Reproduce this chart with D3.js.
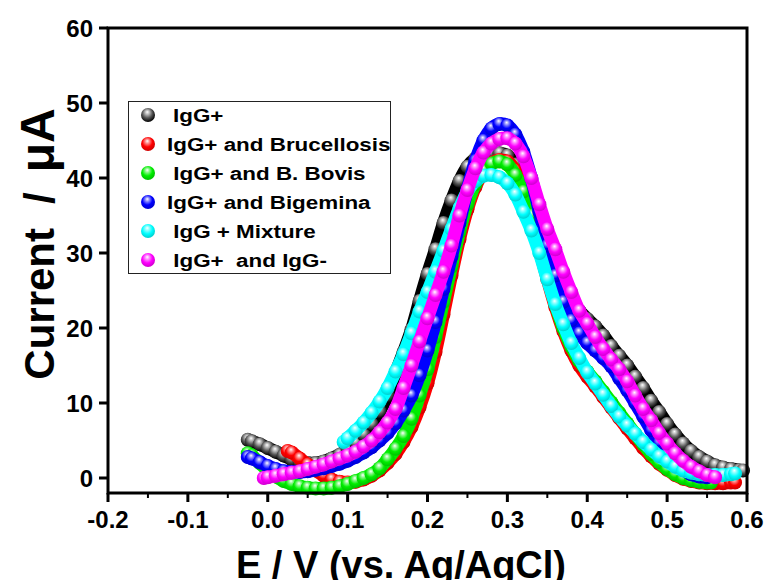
<!DOCTYPE html>
<html>
<head>
<meta charset="utf-8">
<script src="https://cdn.jsdelivr.net/npm/d3@7"></script>
<style>
  body { margin: 0; background: #fff; }
  svg { display: block; font-family: Arial, "Liberation Sans", sans-serif; }
</style>
</head>
<body>
<div id="chart"></div>
<script>
// DPV curves, [E (V), current (uA)]
const igg = [[-0.025,5.1],[-0.02,4.9],[-0.01,4.5],[0,4.0],[0.01,3.5],[0.02,3.0],[0.03,2.5],[0.04,2.2],[0.05,2.0],[0.06,2.0],[0.07,2.2],[0.08,2.6],[0.09,3.1],[0.1,3.8],[0.11,4.7],[0.12,5.8],[0.13,7.2],[0.14,8.9],[0.15,11.0],[0.16,14.0],[0.17,16.8],[0.18,19.8],[0.19,23.6],[0.2,27.2],[0.21,30.5],[0.22,34],[0.23,37],[0.24,39.6],[0.25,41.5],[0.26,42.6],[0.27,43.2],[0.28,43.4],[0.29,43.3],[0.3,43],[0.31,41.8],[0.32,39.8],[0.33,37],[0.34,34],[0.35,31],[0.36,28.3],[0.37,25.8],[0.38,23.8],[0.39,22.3],[0.4,21.2],[0.41,20.2],[0.42,19],[0.43,17.6],[0.44,16.3],[0.45,15],[0.46,13.5],[0.47,12],[0.48,10.3],[0.49,8.8],[0.5,7.2],[0.51,5.8],[0.52,4.6],[0.53,3.6],[0.54,2.8],[0.55,2.2],[0.56,1.7],[0.57,1.4],[0.58,1.2],[0.59,1.05],[0.595,1.0]];
const brucellosis = [[0.025,3.6],[0.03,3.4],[0.04,2.6],[0.05,1.8],[0.06,1.0],[0.07,0.3],[0.08,-0.2],[0.09,-0.5],[0.1,-0.6],[0.11,-0.5],[0.12,-0.2],[0.13,0.3],[0.14,1.0],[0.15,2.0],[0.16,3.2],[0.17,4.8],[0.18,6.8],[0.19,9.4],[0.2,12.6],[0.21,16.8],[0.22,21.8],[0.23,27],[0.24,31.8],[0.25,35.8],[0.26,38.8],[0.27,40.8],[0.28,42],[0.29,42.4],[0.3,42.2],[0.31,41],[0.32,38.5],[0.33,34.5],[0.34,30.5],[0.35,26.5],[0.36,22.8],[0.37,19.6],[0.38,17.0],[0.39,15.0],[0.4,13.5],[0.41,12.2],[0.42,10.8],[0.43,9.4],[0.44,8.0],[0.45,6.6],[0.46,5.3],[0.47,4.0],[0.48,2.9],[0.49,1.9],[0.5,1.1],[0.51,0.4],[0.52,-0.1],[0.53,-0.4],[0.54,-0.6],[0.55,-0.7],[0.56,-0.7],[0.57,-0.7],[0.58,-0.6],[0.585,-0.6]];
const bovis = [[-0.025,3.3],[-0.02,3.0],[-0.01,2.0],[0,1.0],[0.01,0.2],[0.02,-0.4],[0.03,-0.8],[0.04,-1.1],[0.05,-1.3],[0.06,-1.4],[0.07,-1.4],[0.08,-1.3],[0.09,-1.1],[0.1,-0.8],[0.11,-0.4],[0.12,0.0],[0.13,0.5],[0.14,1.3],[0.15,2.5],[0.16,3.9],[0.17,5.6],[0.18,7.9],[0.19,11],[0.2,14.5],[0.21,18.8],[0.22,23.5],[0.23,28.2],[0.24,32.8],[0.25,36.5],[0.26,39.2],[0.27,41],[0.28,41.9],[0.29,42.2],[0.3,41.8],[0.31,40.4],[0.32,38.2],[0.33,35],[0.34,31],[0.35,27],[0.36,23.2],[0.37,20],[0.38,17.5],[0.39,15.6],[0.4,14.2],[0.41,12.9],[0.42,11.5],[0.43,10.1],[0.44,8.7],[0.45,7.3],[0.46,5.9],[0.47,4.5],[0.48,3.2],[0.49,2.1],[0.5,1.2],[0.51,0.5],[0.52,0],[0.53,-0.3],[0.54,-0.5],[0.55,-0.6],[0.555,-0.6]];
const bigemina = [[-0.025,2.8],[-0.02,2.6],[-0.01,2.1],[0,1.6],[0.01,1.2],[0.02,0.9],[0.03,0.8],[0.04,0.8],[0.05,0.9],[0.06,1.1],[0.07,1.3],[0.08,1.6],[0.09,1.9],[0.1,2.3],[0.11,2.8],[0.12,3.4],[0.13,4.1],[0.14,5.0],[0.15,6.0],[0.16,7.3],[0.17,9.0],[0.18,11.0],[0.19,13.7],[0.2,17],[0.21,20.8],[0.22,25.2],[0.23,29.5],[0.24,34],[0.25,38.5],[0.26,42.3],[0.27,45],[0.28,46.6],[0.29,47.2],[0.3,47],[0.31,45.8],[0.32,43.5],[0.33,40],[0.34,35.5],[0.35,31],[0.36,27],[0.37,23.5],[0.38,21],[0.39,19.3],[0.4,18],[0.41,17],[0.42,16],[0.43,14.9],[0.44,13.3],[0.45,11.7],[0.46,10],[0.47,8.2],[0.48,6.4],[0.49,4.7],[0.5,3.2],[0.51,2.0],[0.52,1.1],[0.53,0.5],[0.54,0.2],[0.55,0.1]];
const mixture = [[0.095,4.8],[0.1,5.3],[0.11,6.3],[0.12,7.4],[0.13,8.7],[0.14,10.2],[0.15,12.0],[0.16,14.2],[0.17,16.5],[0.18,19.3],[0.19,22.2],[0.2,24.8],[0.21,27.5],[0.22,30.3],[0.23,33.2],[0.24,36],[0.25,38.2],[0.26,39.6],[0.27,40.3],[0.28,40.4],[0.29,40.1],[0.3,39.3],[0.31,37.8],[0.32,35.5],[0.33,33],[0.34,30],[0.35,26.5],[0.36,23.2],[0.37,20.5],[0.38,18],[0.39,16],[0.4,14.1],[0.41,12.6],[0.42,11.1],[0.43,9.6],[0.44,8.2],[0.45,7],[0.46,5.9],[0.47,4.8],[0.48,3.8],[0.49,2.9],[0.5,2.2],[0.51,1.5],[0.52,1.0],[0.53,0.7],[0.54,0.5],[0.55,0.4],[0.56,0.4],[0.57,0.4],[0.58,0.5],[0.585,0.6]];
const iggNeg = [[-0.005,0],[0,0.1],[0.01,0.3],[0.02,0.5],[0.03,0.7],[0.04,0.9],[0.05,1.2],[0.06,1.5],[0.07,1.8],[0.08,2.2],[0.09,2.6],[0.1,3.0],[0.11,3.5],[0.12,4.2],[0.13,5.0],[0.14,6.1],[0.15,7.4],[0.16,9.2],[0.17,12.0],[0.18,15],[0.19,18.2],[0.2,21.3],[0.21,24.4],[0.22,27.5],[0.23,31],[0.24,35],[0.25,38.4],[0.26,41.3],[0.27,43.4],[0.28,44.6],[0.29,45.2],[0.3,45.3],[0.31,44.6],[0.32,42.9],[0.33,40],[0.34,36.5],[0.35,33.2],[0.36,30.5],[0.37,27.5],[0.38,24.8],[0.39,22.3],[0.4,20.6],[0.41,18.8],[0.42,17.2],[0.43,15.8],[0.44,14.5],[0.45,12.9],[0.46,11],[0.47,9.2],[0.48,7.7],[0.49,6.0],[0.5,4.6],[0.51,3.3],[0.52,2.3],[0.53,1.5],[0.54,0.9],[0.55,0.4],[0.56,0.1]];

const seriesNames = ["IgG+", "IgG+ and Brucellosis", " IgG+ and B. Bovis", "IgG+ and Bigemina", " IgG + Mixture", " IgG+  and IgG-"];
const seriesData = [igg, brucellosis, bovis, bigemina, mixture, iggNeg];
const seriesColors = ["#000000", "#ff0000", "#00ee00", "#0000ff", "#00ffff", "#ff00ff"];
const xTicks = [-0.2, -0.1, 0.0, 0.1, 0.2, 0.3, 0.4, 0.5, 0.6];
const yTicks = [0, 10, 20, 30, 40, 50, 60];

const width = 766, height = 580;
const svg = d3.select("#chart").append("svg")
  .attr("width", width)
  .attr("height", height);

const x = d3.scaleLinear().domain([-0.2, 0.6]).range([108, 747]);
const y = d3.scaleLinear().domain([-2, 60]).range([493, 28]);

// shaded ball gradients
const defs = svg.append("defs");
seriesColors.forEach((c, i) => {
  const base = d3.color(c);
  const g = defs.append("radialGradient")
    .attr("id", "ball" + i)
    .attr("cx", "45%").attr("cy", "40%").attr("r", "60%")
    .attr("fx", "45%").attr("fy", "28%");
  const isBlack = i === 0;
  g.append("stop").attr("offset", "0%").attr("stop-color", "#ffffff");
  g.append("stop").attr("offset", "25%").attr("stop-color", isBlack ? "#bbbbbb" : d3.interpolateRgb(c, "#fff")(0.55));
  g.append("stop").attr("offset", "60%").attr("stop-color", isBlack ? "#555555" : c);
  g.append("stop").attr("offset", "100%").attr("stop-color", isBlack ? "#000000" : base.darker(0.6).formatHex());
});

const line = d3.line()
  .x(d => x(d[0]))
  .y(d => y(d[1]))
  .curve(d3.curveCatmullRom);

const plot = svg.append("g");
seriesData.forEach((data, i) => {
  const g = plot.append("g");
  g.append("path")
    .attr("d", line(data))
    .attr("fill", "none")
    .attr("stroke", seriesColors[i])
    .attr("stroke-width", 13)
    .attr("stroke-linecap", "round")
    .attr("stroke-linejoin", "round");
  g.selectAll("circle")
    .data(data)
    .join("circle")
    .attr("cx", d => x(d[0]))
    .attr("cy", d => y(d[1]))
    .attr("r", 7)
    .attr("fill", "url(#ball" + i + ")");
});

// frame
svg.append("rect")
  .attr("x", 108).attr("y", 28)
  .attr("width", 747 - 108).attr("height", 493 - 28)
  .attr("fill", "none")
  .attr("stroke", "#000")
  .attr("stroke-width", 3);

// x axis
const xAxis = svg.append("g").attr("transform", "translate(0,493)");
xAxis.selectAll("line.major")
  .data(xTicks)
  .join("line")
  .attr("class", "major")
  .attr("x1", d => x(d)).attr("x2", d => x(d))
  .attr("y1", 0).attr("y2", 9)
  .attr("stroke", "#000").attr("stroke-width", 3);
xAxis.selectAll("line.minor")
  .data(xTicks.slice(0, -1))
  .join("line")
  .attr("class", "minor")
  .attr("x1", d => x(d + 0.05)).attr("x2", d => x(d + 0.05))
  .attr("y1", 0).attr("y2", 5)
  .attr("stroke", "#000").attr("stroke-width", 2);
xAxis.selectAll("text")
  .data(xTicks)
  .join("text")
  .attr("x", d => x(d))
  .attr("y", 35)
  .attr("text-anchor", "middle")
  .attr("font-size", 24)
  .attr("font-weight", "bold")
  .text(d => d.toFixed(1));

// y axis
const yAxis = svg.append("g").attr("transform", "translate(108,0)");
yAxis.selectAll("line")
  .data(yTicks)
  .join("line")
  .attr("x1", -9).attr("x2", 0)
  .attr("y1", d => y(d)).attr("y2", d => y(d))
  .attr("stroke", "#000").attr("stroke-width", 3);
yAxis.selectAll("text")
  .data(yTicks)
  .join("text")
  .attr("x", -15)
  .attr("y", d => y(d) + 8.5)
  .attr("text-anchor", "end")
  .attr("font-size", 24)
  .attr("font-weight", "bold")
  .text(d => d);

// axis titles
svg.append("text")
  .attr("x", 401).attr("y", 578)
  .attr("text-anchor", "middle")
  .attr("font-size", 38)
  .attr("font-weight", "bold")
  .text("E / V (vs. Ag/AgCl)");
const yTitle = svg.append("text")
  .attr("transform", "translate(54,244) rotate(-90)")
  .attr("text-anchor", "middle")
  .attr("font-size", 42)
  .attr("font-weight", "bold");
yTitle.append("tspan").text("Current");
yTitle.append("tspan").attr("dx", 24).text("/");
yTitle.append("tspan").attr("dx", 20).attr("font-size", 48).text("μA");

// legend
const legend = svg.append("g");
legend.append("rect")
  .attr("x", 128.5).attr("y", 101.5)
  .attr("width", 262).attr("height", 172)
  .attr("fill", "#fff")
  .attr("stroke", "#222")
  .attr("stroke-width", 1);
const rows = legend.selectAll("g.row")
  .data(seriesNames)
  .join("g")
  .attr("class", "row")
  .attr("transform", (d, i) => `translate(0,${115 + i * 29})`);
rows.append("circle")
  .attr("cx", 148).attr("cy", 0).attr("r", 7)
  .attr("fill", (d, i) => "url(#ball" + i + ")");
rows.append("text")
  .attr("transform", (d, i) => `translate(${i === 0 ? 173 : 167},7) scale(1.18,1)`)
  .attr("font-size", 19)
  .attr("font-weight", "bold")
  .style("white-space", "pre")
  .text(d => d);
</script>
</body>
</html>
